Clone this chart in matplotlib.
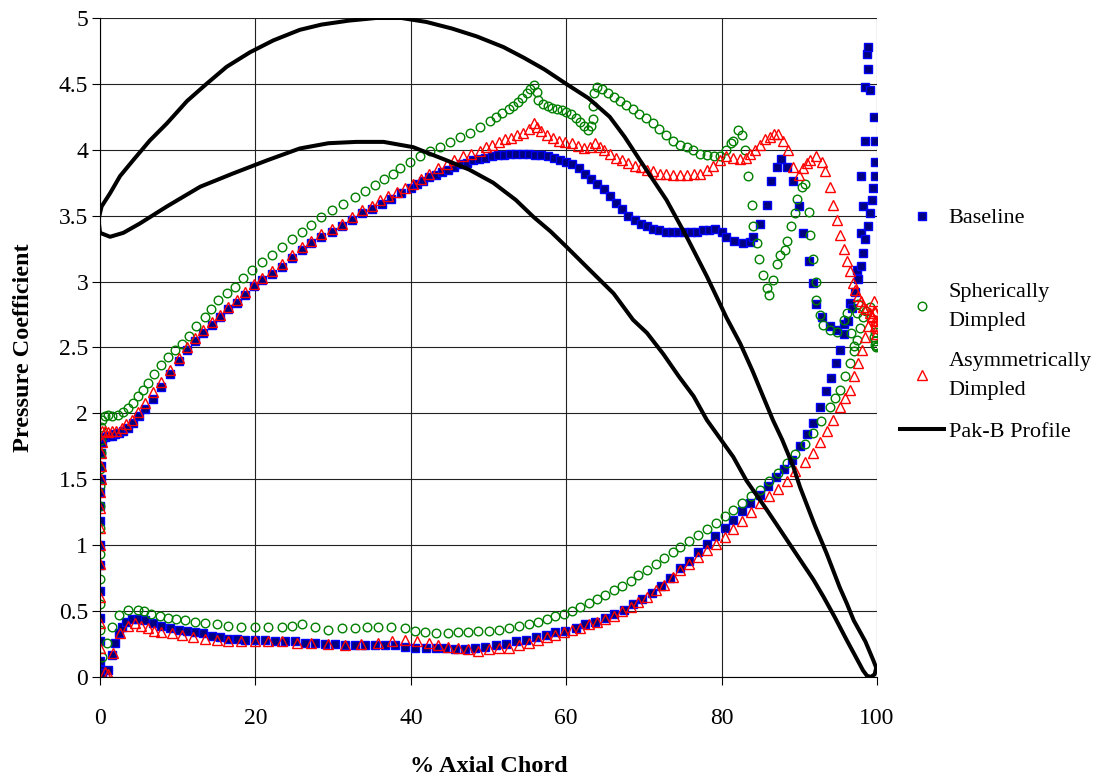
import matplotlib
matplotlib.use("Agg")
import matplotlib.pyplot as plt
from matplotlib.ticker import FuncFormatter, MultipleLocator

plt.rcParams['font.family'] = ['Liberation Serif', 'DejaVu Serif']

# ===== Baseline (blue squares) =====
base_suc_x = [0.0, 0.0, 0.0, 0.0, 0.0, 0.0, 0.0, 0.0, 0.05, 0.05, 0.1, 0.1, 0.15, 0.2, 0.35, 0.64, 1.0, 1.5, 1.93, 2.5, 3.0, 3.6, 4.2,
              5.0, 5.8, 6.8, 7.9, 9.0, 10.1, 11.2, 12.2, 13.3, 14.4, 15.5, 16.5, 17.6, 18.7, 19.8, 20.8, 22.1, 23.4, 24.7, 26.0,
              27.2, 28.5, 29.8, 31.1, 32.4, 33.7, 35.0, 36.3, 37.5, 38.8,
              40.0, 40.8, 41.6, 42.4, 43.2, 44.0, 44.8, 45.6, 46.4, 47.2, 48.0, 48.8, 49.6, 50.4, 51.2, 52.0, 52.8, 53.6, 54.4,
              55.2, 56.0, 56.8, 57.6, 58.4, 59.2, 60.0, 60.8, 61.6, 62.4, 63.2, 64.0, 64.8, 65.6, 66.4, 67.2, 68.0, 68.8, 69.6,
              70.4, 71.2, 72.0, 72.8, 73.6, 74.4, 75.2, 76.0, 76.8, 77.6, 78.4, 79.2, 80.0, 80.6, 81.6, 82.8, 83.6, 84.1, 84.9,
              85.8, 86.4, 87.1, 87.7, 88.4, 89.2, 89.9, 90.5, 91.2, 91.8, 92.2, 92.9, 93.9, 94.8, 95.7, 96.5, 97.4, 98.0, 98.2,
              98.0, 98.5, 98.5, 98.9, 98.7, 98.8, 99.1, 99.6, 99.7, 99.7]
base_suc_y = [0.05, 0.12, 0.27, 0.45, 0.65, 0.85, 1.0, 1.18, 1.3, 1.4, 1.5, 1.6, 1.7, 1.78, 1.82, 1.82, 1.83, 1.83, 1.84, 1.85, 1.87, 1.89, 1.93,
              1.98, 2.03, 2.11, 2.20, 2.30, 2.40, 2.48, 2.55, 2.61, 2.67, 2.73, 2.79, 2.84, 2.90, 2.97, 3.01, 3.06, 3.11, 3.18, 3.24,
              3.29, 3.34, 3.38, 3.42, 3.47, 3.52, 3.55, 3.59, 3.63, 3.67,
              3.71, 3.74, 3.76, 3.79, 3.81, 3.83, 3.85, 3.87, 3.89, 3.90, 3.92, 3.93, 3.94, 3.95, 3.96, 3.96, 3.97, 3.97, 3.97,
              3.97, 3.96, 3.96, 3.95, 3.94, 3.92, 3.91, 3.89, 3.86, 3.82, 3.78, 3.74, 3.70, 3.65, 3.60, 3.55, 3.50, 3.47, 3.44,
              3.42, 3.40, 3.39, 3.38, 3.38, 3.38, 3.38, 3.38, 3.38, 3.39, 3.39, 3.40, 3.38, 3.34, 3.31, 3.29, 3.30, 3.34, 3.44,
              3.58, 3.76, 3.87, 3.93, 3.87, 3.76, 3.57, 3.37, 3.16, 2.99, 2.83, 2.73, 2.66, 2.63, 2.68, 2.84, 3.09, 3.37, 3.57,
              3.80, 4.07, 4.48, 4.61, 4.73, 4.78, 4.45, 4.25, 4.07, 3.91]
base_pre_x = [0.0, 0.3, 1.07, 1.5, 1.9, 2.4, 2.8, 3.4, 4.1, 4.9, 5.8, 6.8, 7.9, 9.0, 10.1, 11.2, 12.2, 13.3, 14.4, 15.5, 16.5, 17.6,
              18.7, 19.9, 21.2, 22.5, 23.8, 25.1, 26.4, 27.7, 29.0, 30.3, 31.5, 32.8, 34.1, 35.4, 36.7, 38.0, 39.3, 40.6, 41.9,
              43.2, 44.4, 45.7, 47.0, 48.3, 49.6, 50.9, 52.2, 53.5, 54.8, 56.1, 57.4, 58.6, 59.9, 61.2, 62.4, 63.7, 65.0, 66.2,
              67.4, 68.6, 69.8, 71.0, 72.2, 73.4, 74.6, 75.8, 77.0, 78.1, 79.2, 80.4, 81.5, 82.6, 83.7, 84.9, 86.0, 87.0, 88.0,
              89.0, 90.1, 91.0, 91.8, 92.6, 93.5, 94.1, 94.7, 95.2, 95.8, 96.3, 96.8, 97.2, 97.6, 97.9, 98.2, 98.5, 98.8, 99.1,
              99.3, 99.5, 99.7]
base_pre_y = [0.02, 0.03, 0.05, 0.17, 0.26, 0.33, 0.38, 0.42, 0.44, 0.44, 0.43, 0.41, 0.39, 0.37, 0.36, 0.35, 0.34, 0.33, 0.31, 0.30,
              0.29, 0.29, 0.28, 0.28, 0.28, 0.27, 0.27, 0.27, 0.26, 0.26, 0.25, 0.25, 0.24, 0.24, 0.24, 0.24, 0.24, 0.24, 0.23,
              0.22, 0.22, 0.22, 0.22, 0.21, 0.21, 0.22, 0.23, 0.24, 0.25, 0.27, 0.28, 0.30, 0.32, 0.34, 0.35, 0.37, 0.40, 0.42,
              0.45, 0.48, 0.51, 0.55, 0.59, 0.64, 0.69, 0.75, 0.83, 0.88, 0.95, 1.01, 1.07, 1.13, 1.19, 1.26, 1.32, 1.38, 1.45,
              1.52, 1.58, 1.65, 1.75, 1.84, 1.93, 2.05, 2.17, 2.27, 2.38, 2.48, 2.60, 2.70, 2.80, 2.92, 3.02, 3.12, 3.22, 3.32,
              3.42, 3.52, 3.62, 3.71, 3.80]

# ===== Spherically dimpled (green circles) =====
sph_suc_x = [0.0, 0.0, 0.0, 0.05, 0.05, 0.1, 0.1, 0.15, 0.2, 0.6, 1.07, 1.6, 2.36, 3.0, 3.6, 4.2, 4.9, 5.5, 6.2, 7.0, 7.9, 8.8,
             9.7, 10.5, 11.4, 12.4, 13.5, 14.3, 15.2, 16.3, 17.4, 18.4, 19.5, 20.8, 22.1, 23.4, 24.7, 26.0, 27.2, 28.5, 29.8,
             31.3, 32.8, 34.1, 35.4, 36.6, 37.7, 38.6, 39.9, 41.2, 42.5, 43.8, 45.0, 46.3, 47.6, 48.9, 50.2, 51.0, 51.8, 52.6,
             53.2, 53.8, 54.3, 54.9, 55.4, 55.9, 56.2, 56.4, 57.0, 57.6, 58.2, 58.8, 59.4, 60.0, 60.6, 61.2, 61.8, 62.3, 62.8,
             63.2, 63.5, 63.5, 63.6, 63.9, 64.6, 65.4, 66.1, 66.9, 67.7, 68.6, 69.4, 70.3, 71.2, 72.0, 72.9, 73.8, 74.6, 75.5,
             76.3, 77.2, 78.1, 79.0, 79.8, 80.6, 81.2, 81.5, 82.1, 82.6, 83.0, 83.4, 83.9, 84.1, 84.5, 84.8, 85.3, 85.8, 86.1,
             86.6, 87.1, 87.5, 88.2, 88.4, 88.9, 89.4, 89.7, 90.3, 90.7, 91.2, 91.4, 91.8, 92.1, 92.2, 92.7, 93.1, 93.9, 94.8,
             95.7, 96.1, 96.7, 97.0, 97.4, 97.6]
sph_suc_y = [0.93, 1.13, 1.30, 1.45, 1.58, 1.70, 1.80, 1.90, 1.95, 1.98, 1.99, 1.98, 1.99, 2.01, 2.04, 2.08, 2.13, 2.18, 2.23, 2.30,
             2.37, 2.43, 2.48, 2.53, 2.59, 2.66, 2.73, 2.79, 2.86, 2.91, 2.96, 3.03, 3.09, 3.15, 3.20, 3.26, 3.32, 3.38, 3.43,
             3.49, 3.54, 3.59, 3.64, 3.69, 3.73, 3.78, 3.82, 3.86, 3.91, 3.95, 3.99, 4.02, 4.06, 4.10, 4.13, 4.17, 4.22, 4.25,
             4.28, 4.31, 4.33, 4.36, 4.39, 4.43, 4.46, 4.49, 4.44, 4.38, 4.35, 4.33, 4.32, 4.31, 4.30, 4.29, 4.27, 4.24, 4.21,
             4.18, 4.15, 4.18, 4.23, 4.33, 4.43, 4.48, 4.46, 4.43, 4.40, 4.37, 4.34, 4.31, 4.27, 4.24, 4.20, 4.16, 4.11, 4.07,
             4.04, 4.02, 4.00, 3.97, 3.96, 3.95, 3.95, 4.00, 4.05, 4.07, 4.15, 4.11, 4.00, 3.80, 3.58, 3.42, 3.29, 3.17, 3.05,
             2.95, 2.90, 3.01, 3.13, 3.20, 3.24, 3.31, 3.42, 3.52, 3.63, 3.72, 3.74, 3.53, 3.35, 3.17, 3.00, 2.86, 2.75, 2.67,
             2.63, 2.62, 2.71, 2.76, 2.61, 2.51, 2.76, 2.83]
sph_pre_x = [0.0, 0.0, 0.0, 0.2, 0.86, 1.5, 2.4, 3.6, 4.9, 5.7, 6.6, 7.7, 8.8, 9.8, 10.9, 12.2, 13.5, 15.0, 16.5, 18.2, 19.9, 21.6,
             23.4, 24.7, 26.0, 27.7, 29.4, 31.1, 32.8, 34.3, 35.8, 37.5, 39.3, 40.5, 41.8, 43.3, 44.8, 46.1, 47.4, 48.7, 50.0,
             51.3, 52.6, 53.9, 55.2, 56.4, 57.5, 58.6, 59.7, 60.8, 61.8, 62.9, 64.0, 65.0, 66.1, 67.2, 68.3, 69.3, 70.4, 71.5,
             72.6, 73.7, 74.7, 75.8, 77.0, 78.1, 79.3, 80.4, 81.5, 82.6, 83.8, 84.9, 86.1, 87.2, 88.4, 89.5, 90.7, 91.8, 92.8,
             93.9, 94.6, 95.2, 95.9, 96.5, 97.0, 97.4, 97.8, 98.2, 98.6, 99.1, 99.6, 99.7, 99.8, 99.9, 100.0, 99.8]
sph_pre_y = [0.74, 0.55, 0.36, 0.15, 0.26, 0.38, 0.47, 0.51, 0.51, 0.50, 0.48, 0.46, 0.45, 0.44, 0.43, 0.42, 0.41, 0.40, 0.39, 0.38,
             0.38, 0.38, 0.38, 0.39, 0.40, 0.38, 0.36, 0.37, 0.37, 0.38, 0.38, 0.38, 0.37, 0.35, 0.34, 0.33, 0.33, 0.34, 0.34,
             0.35, 0.35, 0.36, 0.37, 0.39, 0.40, 0.42, 0.44, 0.46, 0.48, 0.50, 0.53, 0.56, 0.59, 0.62, 0.66, 0.69, 0.73, 0.77,
             0.81, 0.86, 0.90, 0.95, 0.99, 1.03, 1.08, 1.12, 1.17, 1.22, 1.27, 1.32, 1.37, 1.42, 1.49, 1.55, 1.62, 1.69, 1.77,
             1.85, 1.94, 2.05, 2.12, 2.18, 2.28, 2.38, 2.47, 2.56, 2.65, 2.73, 2.78, 2.81, 2.58, 2.55, 2.52, 2.50, 2.51, 2.62]

# ===== Asymmetrically dimpled (red triangles) =====
asy_suc_x = [0.0, 0.0, 0.05, 0.05, 0.1, 0.1, 0.15, 0.2, 0.2, 0.6, 1.0, 1.5, 2.1, 2.8, 3.4, 4.1, 4.9, 5.8, 6.8, 7.9, 9.0, 10.1,
             11.2, 12.2, 13.3, 14.4, 15.5, 16.5, 17.6, 18.7, 19.8, 20.8, 22.1, 23.4, 24.7, 26.0, 27.2, 28.5, 29.8, 31.1, 32.4,
             33.7, 35.0, 36.0, 37.1, 38.2, 39.2, 40.3, 41.3, 42.4, 43.5, 44.6, 45.6, 46.7, 47.8, 48.9, 49.7, 50.5, 51.3, 52.1,
             52.9, 53.7, 54.5, 55.2, 55.9, 56.3, 56.8, 57.5, 58.3, 59.1, 59.9, 60.7, 61.5, 62.3, 63.0, 63.7, 64.3, 64.9, 65.6,
             66.4, 67.2, 68.0, 68.8, 69.6, 70.4, 71.2, 72.1, 72.9, 73.8, 74.7, 75.6, 76.4, 77.2, 78.1, 78.9, 79.8, 80.6, 81.5,
             82.4, 83.1, 83.7, 84.3, 84.9, 85.6, 86.2, 86.8, 87.3, 87.9, 88.6, 89.2, 89.9, 90.5, 91.0, 91.4, 92.2, 92.9, 93.3,
             93.9, 94.4, 94.8, 95.2, 95.7, 96.1, 96.5, 96.9, 97.2, 97.6, 97.9, 98.2, 98.6, 99.1, 99.4, 99.7, 99.8, 99.6, 99.8,
             99.9, 100.0, 99.9]
asy_suc_y = [1.00, 1.13, 1.28, 1.40, 1.50, 1.60, 1.70, 1.78, 1.87, 1.87, 1.86, 1.87, 1.87, 1.89, 1.92, 1.95, 2.01, 2.08, 2.16, 2.24,
             2.33, 2.42, 2.50, 2.57, 2.63, 2.69, 2.75, 2.81, 2.86, 2.92, 2.98, 3.03, 3.08, 3.13, 3.20, 3.26, 3.31, 3.36, 3.40,
             3.44, 3.49, 3.54, 3.57, 3.62, 3.65, 3.68, 3.71, 3.74, 3.78, 3.82, 3.86, 3.89, 3.92, 3.95, 3.97, 3.99, 4.02, 4.04,
             4.06, 4.08, 4.09, 4.11, 4.13, 4.16, 4.20, 4.17, 4.14, 4.11, 4.09, 4.07, 4.06, 4.05, 4.03, 4.01, 4.02, 4.05, 4.02,
             4.00, 3.97, 3.94, 3.92, 3.90, 3.88, 3.87, 3.85, 3.84, 3.82, 3.82, 3.81, 3.81, 3.81, 3.82, 3.82, 3.85, 3.88, 3.92,
             3.95, 3.94, 3.93, 3.94, 3.97, 4.00, 4.04, 4.08, 4.10, 4.12, 4.12, 4.07, 4.00, 3.87, 3.81, 3.86, 3.90, 3.92, 3.95,
             3.91, 3.84, 3.72, 3.58, 3.47, 3.35, 3.25, 3.16, 3.08, 2.99, 2.94, 2.89, 2.85, 2.81, 2.79, 2.76, 2.74, 2.71, 2.66,
             2.85, 2.78, 2.70, 2.65, 2.60]
asy_pre_x = [0.0, 0.0, 0.0, 0.0, 0.64, 1.07, 1.7, 2.6, 3.6, 4.5, 5.3, 6.2, 7.0, 7.9, 9.2, 10.5, 12.0, 13.5, 15.0, 16.5, 18.2,
             19.9, 21.6, 23.4, 25.3, 27.2, 29.4, 31.5, 33.6, 35.8, 37.6, 39.3, 40.8, 42.3, 43.5, 44.8, 46.1, 47.4, 48.7, 50.0,
             51.3, 52.6, 53.9, 55.2, 56.4, 57.5, 58.6, 59.7, 60.8, 61.8, 62.9, 64.0, 65.0, 66.1, 67.2, 68.3, 69.3, 70.4, 71.5,
             72.6, 73.7, 74.7, 75.8, 77.0, 78.1, 79.3, 80.4, 81.5, 82.6, 83.8, 84.9, 86.1, 87.2, 88.4, 89.5, 90.7, 91.8, 92.7,
             93.6, 94.4, 95.2, 95.9, 96.5, 97.1, 97.6, 98.1, 98.5, 98.9, 99.3, 99.6]
asy_pre_y = [0.86, 0.61, 0.41, 0.22, 0.04, 0.02, 0.18, 0.33, 0.39, 0.41, 0.39, 0.37, 0.35, 0.34, 0.33, 0.32, 0.30, 0.29, 0.28, 0.27,
             0.27, 0.27, 0.27, 0.27, 0.26, 0.26, 0.25, 0.24, 0.25, 0.26, 0.27, 0.28, 0.27, 0.26, 0.24, 0.23, 0.22, 0.21, 0.20,
             0.21, 0.22, 0.22, 0.24, 0.26, 0.28, 0.30, 0.32, 0.34, 0.36, 0.37, 0.40, 0.42, 0.44, 0.46, 0.50, 0.53, 0.57, 0.61,
             0.66, 0.70, 0.76, 0.81, 0.86, 0.91, 0.96, 1.01, 1.06, 1.12, 1.18, 1.25, 1.32, 1.37, 1.43, 1.49, 1.56, 1.63, 1.70,
             1.78, 1.87, 1.95, 2.05, 2.12, 2.18, 2.28, 2.38, 2.48, 2.58, 2.66, 2.73, 2.78]

# ===== Pak-B profile (TE -> suction side -> LE -> pressure side -> TE) =====
prof_x = [99.9, 99.5, 98.5, 97.0, 96.1, 95.2, 93.5, 92.0, 90.1, 89.2, 87.8, 86.6, 85.4, 84.0, 82.4, 80.6, 78.1, 75.5, 72.9,
          71.2, 69.5, 67.5, 65.6, 62.9, 60.0, 57.2, 54.5, 51.9, 48.5, 45.3, 42.0, 38.8, 35.5, 32.0, 28.5, 25.7, 22.3, 19.3,
          16.3, 13.7, 11.2, 8.6, 6.4, 4.25, 2.57, 1.29, 0.2, -0.2,
          0.0, 1.29, 3.0, 5.1, 8.6, 12.9, 17.1, 21.5, 25.7, 29.4, 33.0, 36.5, 40.3, 44.6, 47.5, 50.6, 53.5, 55.8, 58.0,
          60.1, 63.0, 66.1, 68.6, 70.4, 72.5, 74.5, 76.4, 78.1, 81.5, 83.2, 85.8, 87.5, 90.1, 91.8, 93.1, 94.6, 96.1,
          97.2, 98.2, 98.7, 99.2, 99.7, 99.9]
prof_y = [0.07, 0.13, 0.27, 0.43, 0.56, 0.68, 0.94, 1.15, 1.44, 1.60, 1.80, 1.95, 2.12, 2.32, 2.53, 2.73, 3.04, 3.34, 3.62,
          3.77, 3.92, 4.10, 4.25, 4.39, 4.50, 4.61, 4.70, 4.78, 4.86, 4.92, 4.97, 5.00, 5.00, 4.98, 4.95, 4.91, 4.83, 4.74,
          4.63, 4.50, 4.37, 4.20, 4.07, 3.92, 3.80, 3.67, 3.57, 3.47,
          3.37, 3.34, 3.37, 3.44, 3.57, 3.72, 3.82, 3.92, 4.01, 4.05, 4.06, 4.06, 4.02, 3.92, 3.85, 3.75, 3.62, 3.49, 3.38,
          3.26, 3.09, 2.91, 2.71, 2.61, 2.45, 2.28, 2.13, 1.95, 1.67, 1.49, 1.27, 1.12, 0.89, 0.74, 0.61, 0.45, 0.28,
          0.16, 0.05, 0.01, 0.0, 0.02, 0.07]

fig = plt.figure(figsize=(11.09, 7.76), dpi=100)
ax = fig.add_axes([0.0902, 0.1276, 0.7006, 0.8492])

base_style = dict(ls='none', marker='s', ms=5.6, mfc='#000080', mec='#0000ff', mew=1.0)
sph_style = dict(ls='none', marker='o', ms=6.2, mfc='none', mec='#008000', mew=1.0)
asy_style = dict(ls='none', marker='^', ms=7.6, mfc='none', mec='#ff0000', mew=1.0)

h_base, = ax.plot(base_suc_x, base_suc_y, **base_style)
ax.plot(base_pre_x, base_pre_y, **base_style)
h_sph, = ax.plot(sph_suc_x, sph_suc_y, **sph_style)
ax.plot(sph_pre_x, sph_pre_y, **sph_style)
h_asy, = ax.plot(asy_suc_x, asy_suc_y, **asy_style)
ax.plot(asy_pre_x, asy_pre_y, **asy_style)
h_prof, = ax.plot(prof_x, prof_y, color='black', lw=2.9, solid_joinstyle='round')

ax.set_xlim(0, 100)
ax.set_ylim(0, 5)
ax.xaxis.set_major_locator(MultipleLocator(20))
ax.yaxis.set_major_locator(MultipleLocator(0.5))
ax.yaxis.set_major_formatter(FuncFormatter(lambda v, p: f"{v:g}"))
ax.grid(True, color='#222222', lw=0.8)
ax.set_axisbelow(True)
for s in ['top', 'right']:
    ax.spines[s].set_visible(False)
ax.tick_params(axis='both', direction='out', length=5.5, width=0.8, labelsize=17)
ax.tick_params(axis='x', pad=17)
ax.tick_params(axis='y', pad=3)

ax.set_xlabel('% Axial Chord', fontsize=17.5, fontweight='bold', labelpad=19)
ax.set_ylabel('Pressure Coefficient', fontsize=17.5, fontweight='bold', labelpad=18)

leg_kw = dict(frameon=False, fontsize=16, handlelength=2.0, handletextpad=0.2, borderpad=0, borderaxespad=0)
leg1 = fig.legend([h_base], ['Baseline'], loc='center left', bbox_to_anchor=(0.8115, 0.719), **leg_kw)
leg2 = fig.legend([h_sph, h_asy, h_prof],
                  ['Spherically\nDimpled', 'Asymmetrically\nDimpled', 'Pak-B Profile'],
                  loc='upper left', bbox_to_anchor=(0.8115, 0.635), labelspacing=0.95, **leg_kw)
for t in leg2.get_texts():
    t.set_linespacing(1.7)

fig.savefig('out.png', dpi=100)
